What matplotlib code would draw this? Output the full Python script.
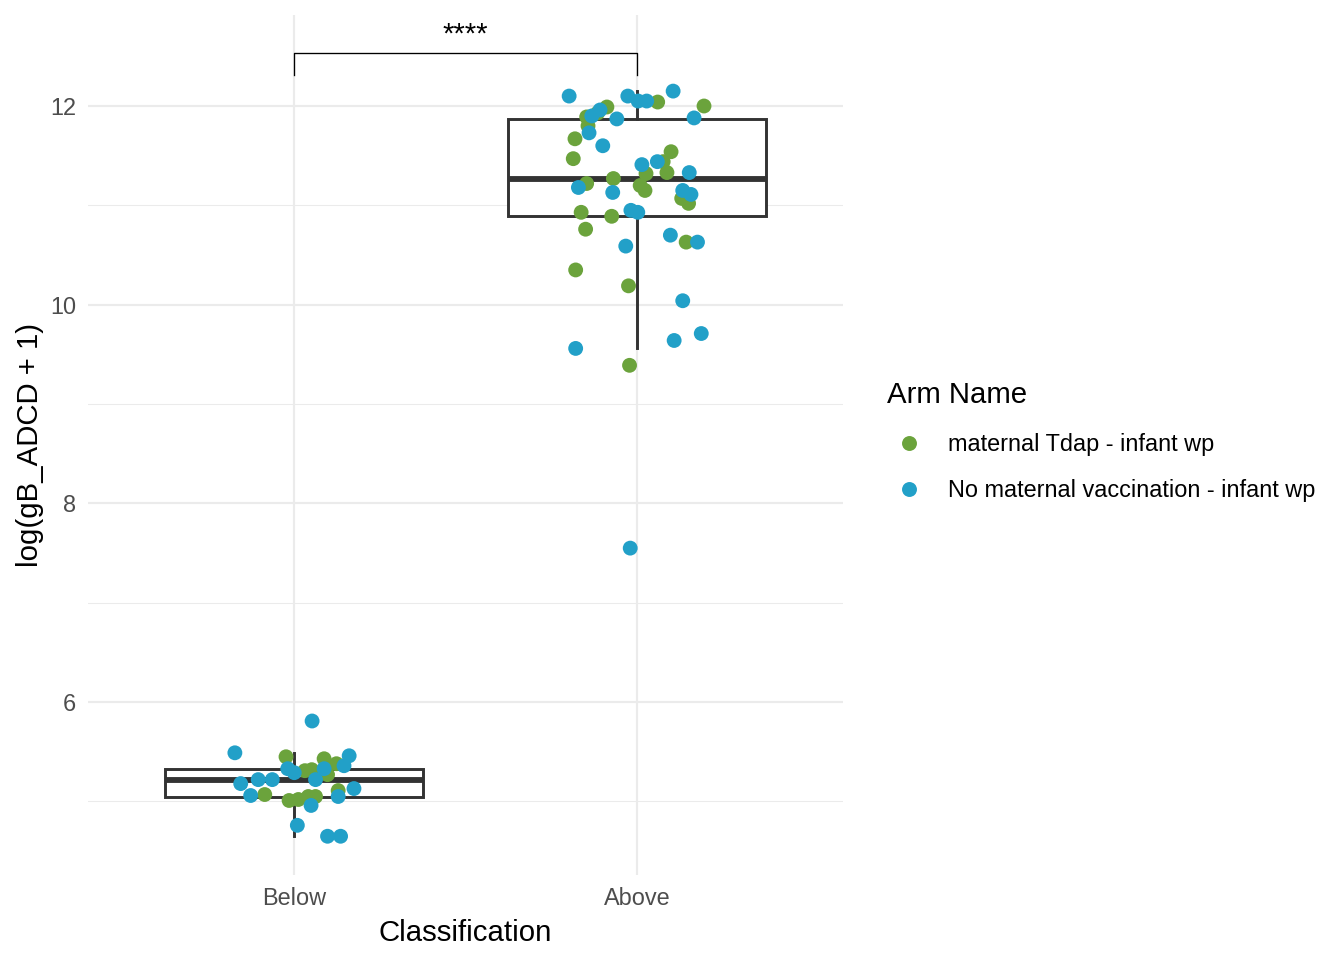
import matplotlib
matplotlib.use('Agg')
import matplotlib.pyplot as plt
from matplotlib.lines import Line2D
import numpy as np

plt.rcParams['font.family'] = ['Liberation Sans', 'DejaVu Sans']

categories = ['Below', 'Above']
arms = ['maternal Tdap - infant wp', 'No maternal vaccination - infant wp']
arm_colors = ['#6BA33C', '#22A0C8']

# values, jitter = horizontal offset from the category centre
below_tdap = [5.45, 5.43, 5.38, 5.31, 5.32, 5.27, 5.07, 5.11, 5.01, 5.02, 5.05, 5.05]
below_tdap_jit = [-0.023, 0.088, 0.124, 0.032, 0.052, 0.098, -0.085, 0.129, -0.014, 0.013, 0.042, 0.063]

below_none = [5.81, 5.49, 5.46, 5.36, 5.33, 5.29, 5.33, 5.22, 5.18, 5.22, 5.22, 5.06,
              5.13, 5.05, 4.96, 4.76, 4.65, 4.65]
below_none_jit = [0.053, -0.172, 0.161, 0.146, -0.018, 0.001, 0.088, 0.063, -0.155, -0.104,
                  -0.063, -0.126, 0.175, 0.129, 0.050, 0.010, 0.098, 0.136]

above_tdap = [12.04, 12.00, 11.99, 11.93, 11.89, 11.80, 11.67, 11.54, 11.47, 11.44, 11.32, 11.33,
              11.27, 11.22, 11.20, 11.15, 11.07, 11.02, 10.93, 10.89, 10.76, 10.63, 10.35, 10.19,
              9.39]
above_tdap_jit = [0.060, 0.195, -0.088, -0.115, -0.147, -0.143, -0.181, 0.099, -0.186, 0.076, 0.026,
                  0.087, -0.069, -0.147, 0.009, 0.023, 0.130, 0.150, -0.163, -0.074, -0.150, 0.143,
                  -0.179, -0.025, -0.022]

above_none = [12.10, 12.10, 12.05, 12.05, 12.15, 11.96, 11.90, 11.87, 11.88, 11.73, 11.60, 11.41,
              11.44, 11.33, 11.18, 11.13, 11.15, 11.11, 10.95, 10.93, 10.70, 10.63, 10.59, 10.04,
              9.56, 9.64, 9.71, 7.55]
above_none_jit = [-0.198, -0.027, 0.003, 0.028, 0.105, -0.108, -0.132, -0.059, 0.166, -0.140, -0.100,
                  0.014, 0.059, 0.152, -0.171, -0.071, 0.133, 0.157, -0.018, 0.002, 0.097, 0.176,
                  -0.033, 0.133, -0.179, 0.108, 0.187, -0.020]

signif_label = '****'

groups = {
    'Below': [(below_tdap, below_tdap_jit), (below_none, below_none_jit)],
    'Above': [(above_tdap, above_tdap_jit), (above_none, above_none_jit)],
}

fig = plt.figure(figsize=(7, 5), dpi=192)
ax = fig.add_axes([88 / 1344, 1 - 875 / 960, (843 - 88) / 1344, (875 - 15) / 960])

pos = np.arange(1, len(categories) + 1)

# boxes
box_data = [np.concatenate([np.array(v) for v, _ in groups[c]]) for c in categories]
bp = ax.boxplot(box_data, positions=pos, widths=0.75, whis=1.5, showfliers=False,
                showcaps=False, patch_artist=True, zorder=2,
                boxprops=dict(facecolor='white', edgecolor='#333333', linewidth=1.1),
                whiskerprops=dict(color='#333333', linewidth=1.1),
                medianprops=dict(color='#333333', linewidth=2.2, solid_capstyle='butt'))

# jittered points
for i, c in enumerate(categories):
    for k, (vals, jit) in enumerate(groups[c]):
        ax.scatter(pos[i] + np.array(jit), vals, s=31, color=arm_colors[k],
                   edgecolors='none', zorder=3 + k)

# significance bracket
ax.plot([1, 1, 2, 2], [12.31, 12.53, 12.53, 12.31], color='black', lw=0.5, zorder=5)
ax.text(1.5, 12.58, signif_label, ha='center', va='bottom', fontsize=11, color='black')

ax.set_xlim(0.4, 2.6)
ax.set_ylim(4.26, 12.916)
ax.set_xticks(pos)
ax.set_xticklabels(categories)
ax.set_yticks([6, 8, 10, 12])
ax.set_yticks([5, 7, 9, 11], minor=True)
ax.tick_params(axis='both', which='both', length=0, labelsize=8.8, labelcolor='#4D4D4D')
ax.tick_params(axis='y', pad=4.5)
ax.tick_params(axis='x', pad=4.5)
ax.grid(True, which='major', color='#EBEBEB', lw=0.8, zorder=0)
ax.grid(True, which='minor', axis='y', color='#EBEBEB', lw=0.4, zorder=0)
ax.set_axisbelow(True)
for sp in ax.spines.values():
    sp.set_visible(False)

ax.set_xlabel('Classification', fontsize=11, labelpad=3.3)
ax.set_ylabel('log(gB_ADCD + 1)', fontsize=11, labelpad=2.3)

handles = [Line2D([0], [0], marker='o', linestyle='none', markersize=5.6,
                  markerfacecolor=col, markeredgecolor='none') for col in arm_colors]
leg = fig.legend(handles, arms, title='Arm Name', loc='upper left',
                 bbox_to_anchor=(887 / 1344, 1 - 381 / 960), frameon=False,
                 fontsize=8.8, title_fontsize=11, alignment='left',
                 borderpad=0, borderaxespad=0, handlelength=1.9, handletextpad=0.7,
                 labelspacing=1.0)
leg._legend_box.sep = 9

fig.savefig('out.png', dpi=192)
